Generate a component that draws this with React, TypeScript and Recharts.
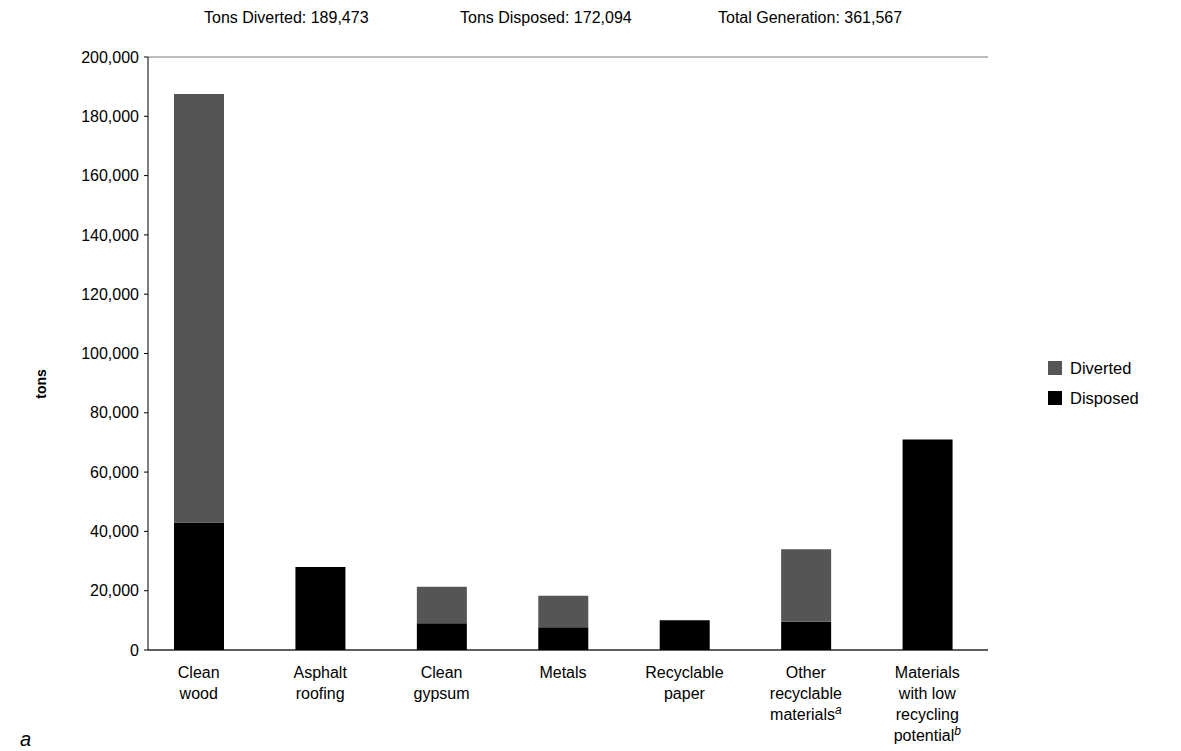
import React from 'react';
import {
  BarChart,
  Bar,
  XAxis,
  YAxis,
  CartesianGrid,
  Legend,
} from 'recharts';

const categories = [
  'Clean wood',
  'Asphalt roofing',
  'Clean gypsum',
  'Metals',
  'Recyclable paper',
  'Other recyclable materials',
  'Materials with low recycling potential',
];

// wrapped tick labels, last item of a line may carry a superscript
const tickLines: string[][] = [
  ['Clean', 'wood'],
  ['Asphalt', 'roofing'],
  ['Clean', 'gypsum'],
  ['Metals'],
  ['Recyclable', 'paper'],
  ['Other', 'recyclable', 'materials|a'],
  ['Materials', 'with low', 'recycling', 'potential|b'],
];

const disposed = [43000, 28000, 9000, 7700, 10000, 9500, 71000];
const diverted = [144500, 0, 12300, 10600, 0, 24500, 0];

const yTicks = [0, 20000, 40000, 60000, 80000, 100000, 120000, 140000, 160000, 180000, 200000];

const headerItems = [
  { label: 'Tons Diverted: 189,473', left: 204 },
  { label: 'Tons Disposed: 172,094', left: 460 },
  { label: 'Total Generation: 361,567', left: 718 },
];

const data = categories.map((name, i) => ({
  name,
  idx: i,
  Disposed: disposed[i],
  Diverted: diverted[i],
}));

const FONT = '"Liberation Sans", Arial, sans-serif';

const CategoryTick = (props: any) => {
  const { x, y, payload } = props;
  const lines = tickLines[payload.index] || [payload.value];
  return (
    <g transform={`translate(${x},${y})`}>
      {lines.map((line, i) => {
        const [txt, sup] = line.split('|');
        return (
          <text
            key={i}
            x={0}
            y={20 + i * 21}
            textAnchor="middle"
            fontSize={16}
            fontFamily={FONT}
            fill="#000"
          >
            {txt}
            {sup && (
              <tspan dy={-6} fontSize={12} fontStyle="italic">
                {sup}
              </tspan>
            )}
          </text>
        );
      })}
    </g>
  );
};

const TonsLabel = () => (
  <text
    x={46}
    y={384}
    transform="rotate(-90, 46, 384)"
    textAnchor="middle"
    fontSize={14}
    fontWeight="bold"
    fontFamily={FONT}
    fill="#000"
  >
    tons
  </text>
);

const LegendBox = () => (
  <div style={{ fontFamily: FONT, fontSize: 16.5, color: '#000' }}>
    {[
      { name: 'Diverted', color: '#555555' },
      { name: 'Disposed', color: '#000000' },
    ].map((it) => (
      <div key={it.name} style={{ display: 'flex', alignItems: 'center', height: 30 }}>
        <span
          style={{
            display: 'inline-block',
            width: 14,
            height: 14,
            background: it.color,
            marginRight: 8,
          }}
        />
        {it.name}
      </div>
    ))}
  </div>
);

export default function App() {
  return (
    <div
      style={{
        position: 'absolute',
        left: 0,
        top: 0,
        width: 1181,
        height: 751,
        background: '#fff',
        fontFamily: FONT,
        overflow: 'hidden',
      }}
    >
      {headerItems.map((h) => (
        <div
          key={h.label}
          style={{ position: 'absolute', left: h.left, top: 9, fontSize: 16, color: '#000' }}
        >
          {h.label}
        </div>
      ))}
      <div
        style={{
          position: 'absolute',
          left: 20,
          top: 728,
          fontSize: 20,
          fontStyle: 'italic',
          color: '#000',
        }}
      >
        a
      </div>
      <BarChart
        width={1181}
        height={751}
        data={data}
        margin={{ top: 57, right: 193, bottom: 0, left: 0 }}
        barCategoryGap={0}
      >
        <CartesianGrid vertical={false} stroke="#7a7a7a" strokeWidth={1} />
        <XAxis
          dataKey="name"
          interval={0}
          padding={{ left: -10, right: 0 }}
          tick={<CategoryTick />}
          tickLine={false}
          axisLine={{ stroke: '#000' }}
          height={101}
        />
        <YAxis
          yAxisId="left"
          width={148}
          domain={[0, 200000]}
          ticks={yTicks}
          allowDataOverflow
          tickFormatter={(v: number) => v.toLocaleString('en-US')}
          tick={{ fontSize: 16, fill: '#000', fontFamily: FONT }}
          tickSize={4}
          tickMargin={5}
          axisLine={{ stroke: '#000' }}
          tickLine={{ stroke: '#000' }}
          label={<TonsLabel />}
        />
        <YAxis
          yAxisId="right"
          orientation="right"
          width={0}
          domain={[0, 200000]}
          tick={false}
          tickLine={false}
          axisLine={{ stroke: '#000' }}
        />
        <Legend
          layout="vertical"
          align="center"
          verticalAlign="middle"
          wrapperStyle={{ left: 1048, top: 353, width: 130 }}
          content={<LegendBox />}
        />
        <Bar
          yAxisId="left"
          dataKey="Disposed"
          stackId="a"
          fill="#000000"
          barSize={50}
          isAnimationActive={false}
        />
        <Bar
          yAxisId="left"
          dataKey="Diverted"
          stackId="a"
          fill="#555555"
          barSize={50}
          isAnimationActive={false}
        />
      </BarChart>
    </div>
  );
}
